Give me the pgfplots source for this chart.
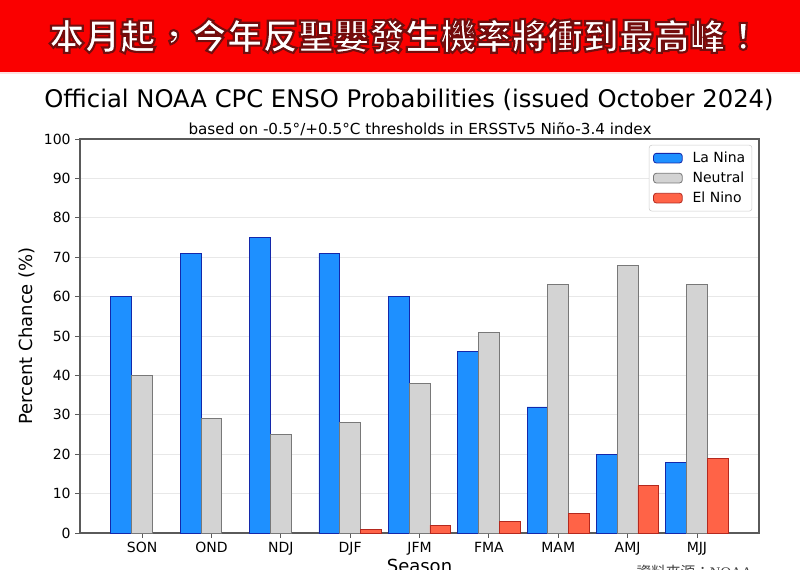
\documentclass[border=0pt]{standalone}
\usepackage{fontspec}
\setmainfont{DejaVu Sans}
\newfontfamily\cjk{Noto Sans CJK TC}
\newfontfamily\noaafont{Liberation Serif}
\usepackage{pgfplots}
\pgfplotsset{compat=1.18}
\definecolor{banner}{RGB}{250,0,0}
\definecolor{ninafill}{RGB}{30,144,255}
\definecolor{ninaedge}{RGB}{20,40,170}
\definecolor{neutfill}{RGB}{211,211,211}
\definecolor{neutedge}{RGB}{120,120,120}
\definecolor{ninofill}{RGB}{255,99,71}
\definecolor{ninoedge}{RGB}{180,40,30}
\definecolor{frame}{RGB}{90,90,90}
\pgfplotsset{
  patchlegend/.style={legend image code/.code={%
    \draw[##1,line width=0.6pt] (0pt,-3.6pt) rectangle (21.5pt,3.6pt);
    \path (27pt,0pt);}},
}
\begin{document}
\begin{tikzpicture}[x=0.75pt,y=-0.75pt]
\useasboundingbox (0,0) rectangle (800,570);
\fill[white] (0,0) rectangle (800,570);
% banner
\fill[banner] (0,0) rectangle (800,72);
\fill[red!12] (0,72) rectangle (800,74);
\node[text=white,font=\cjk\bfseries\fontsize{26.7}{30}\selectfont] at (405,36)
  {\special{pdf:literal direct 2 Tr 1.6 w 0.45 0.05 0.05 RG}本月起，今年反聖嬰發生機率將衝到最高峰！\special{pdf:literal direct 0 Tr}};
% titles
\node[font=\fontsize{18.2}{21}\selectfont] at (409,100) {Official NOAA CPC ENSO Probabilities (issued October 2024)};
\node[font=\fontsize{11.4}{13}\selectfont] at (420,129) {based on -0.5°/+0.5°C thresholds in ERSSTv5 Niño-3.4 index};

\begin{axis}[
  at={(60pt,-399.75pt)}, anchor=south west,
  scale only axis, width=509.25pt, height=295.5pt,
  xmin=-0.895, xmax=8.895, ymin=0, ymax=100,
  xtick={0,...,8},
  xticklabels={SON,OND,NDJ,DJF,JFM,FMA,MAM,AMJ,MJJ},
  ytick={0,10,...,100},
  xtick pos=bottom, ytick pos=left,
  tick align=outside, major tick length=3.5pt,
  tick style={frame,line width=0.6pt},
  axis line style={frame,line width=0.8pt},
  ymajorgrids, grid style={black!9,line width=0.6pt},
  ticklabel style={font=\fontsize{10.5}{12}\selectfont},
  /pgf/number format/assume math mode=true,
  xlabel={Season}, ylabel={Percent Chance (\%)},
  label style={font=\fontsize{13.5}{15}\selectfont},
  xlabel style={yshift=4pt},
  legend style={at={(0.99,0.985)},anchor=north east,draw=black!20,rounded corners=2pt,
    font=\fontsize{10.5}{12}\selectfont,row sep=1.5pt,inner sep=3pt},
  legend cell align=left,
]
\addplot[ybar,bar width=0.3,bar shift=-0.3,fill=ninafill,draw=ninaedge,line width=0.6pt,patchlegend]
  coordinates {(0,60) (1,71) (2,75) (3,71) (4,60) (5,46) (6,32) (7,20) (8,18)};
\addplot[ybar,bar width=0.3,bar shift=0,fill=neutfill,draw=neutedge,line width=0.6pt,patchlegend]
  coordinates {(0,40) (1,29) (2,25) (3,28) (4,38) (5,51) (6,63) (7,68) (8,63)};
\addplot[ybar,bar width=0.3,bar shift=0.3,fill=ninofill,draw=ninoedge,line width=0.6pt,patchlegend]
  coordinates {(3,1) (4,2) (5,3) (6,5) (7,12) (8,19)};
\legend{La Nina,Neutral,El Nino}
\end{axis}
\node[anchor=north east,text=black!75,font=\fontsize{11}{13}\selectfont] at (757,560)
  {\cjk 資料來源：\noaafont NOAA};
\end{tikzpicture}
\end{document}
